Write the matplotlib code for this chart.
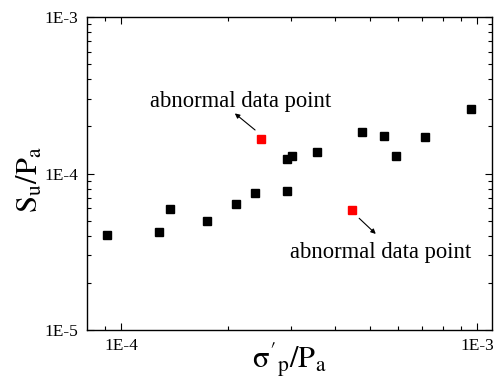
import matplotlib
matplotlib.use("Agg")
from matplotlib import pyplot as plt
from matplotlib import ticker
import numpy as np

# normal points (sigma'_p / Pa, Su / Pa)
x_normal = [9.15e-5, 1.28e-4, 1.375e-4, 1.74e-4, 2.10e-4, 2.38e-4, 2.93e-4,
            2.93e-4, 3.02e-4, 3.56e-4, 4.75e-4, 5.48e-4, 5.92e-4, 7.13e-4, 9.58e-4]
y_normal = [4.04e-5, 4.24e-5, 5.89e-5, 4.96e-5, 6.37e-5, 7.55e-5, 7.78e-5,
            1.234e-4, 1.30e-4, 1.374e-4, 1.844e-4, 1.731e-4, 1.30e-4, 1.706e-4, 2.60e-4]

# abnormal points
x_abnormal = [2.474e-4, 4.457e-4]
y_abnormal = [1.671e-4, 5.86e-5]

plt.rcParams['font.family'] = ['Liberation Serif', 'DejaVu Serif']
plt.rcParams['mathtext.fontset'] = 'stix'

fig = plt.figure(figsize=(5, 3.86), dpi=100)
ax = fig.add_axes([0.174, 0.145, 0.81, 0.811])

ax.plot(x_normal, y_normal, 's', color='black', markersize=5.5)
ax.plot(x_abnormal, y_abnormal, 's', color='red', markersize=5.5)

ax.set_xscale('log')
ax.set_yscale('log')
ax.set_xlim(8.03e-5, 1.10e-3)
ax.set_ylim(1e-5, 1e-3)

fmt = ticker.FuncFormatter(lambda v, p: "1E%d" % int(round(np.log10(v))))
ax.xaxis.set_major_formatter(fmt)
ax.yaxis.set_major_formatter(fmt)
ax.xaxis.set_minor_formatter(ticker.NullFormatter())
ax.yaxis.set_minor_formatter(ticker.NullFormatter())

ax.tick_params(which='both', direction='in', top=True, right=True, labelsize=12.5, width=0.8)
ax.tick_params(which='major', length=5, pad=6)
ax.tick_params(which='minor', length=3)
for s in ax.spines.values():
    s.set_linewidth(1.0)

ax.set_xlabel(r"$\mathrm{\sigma'_p/P_a}$", fontsize=22)
ax.set_ylabel(r"$\mathrm{S_u/P_a}$", fontsize=22)
ax.xaxis.set_label_coords(0.5, -0.035)
ax.yaxis.set_label_coords(-0.104, 0.48)

# annotations
ax.text(0.380, 0.713, "abnormal data point", transform=ax.transAxes,
        ha='center', va='baseline', fontsize=16.3)
ax.annotate('', xy=(0.365, 0.692), xytext=(0.415, 0.639),
            xycoords='axes fraction', textcoords='axes fraction',
            arrowprops=dict(arrowstyle='-|>', color='black', lw=0.8,
                            mutation_scale=7, shrinkA=0, shrinkB=0))
ax.text(0.726, 0.230, "abnormal data point", transform=ax.transAxes,
        ha='center', va='baseline', fontsize=16.3)
ax.annotate('', xy=(0.713, 0.307), xytext=(0.672, 0.357),
            xycoords='axes fraction', textcoords='axes fraction',
            arrowprops=dict(arrowstyle='-|>', color='black', lw=0.8,
                            mutation_scale=7, shrinkA=0, shrinkB=0))

fig.savefig("out.png", dpi=100)
